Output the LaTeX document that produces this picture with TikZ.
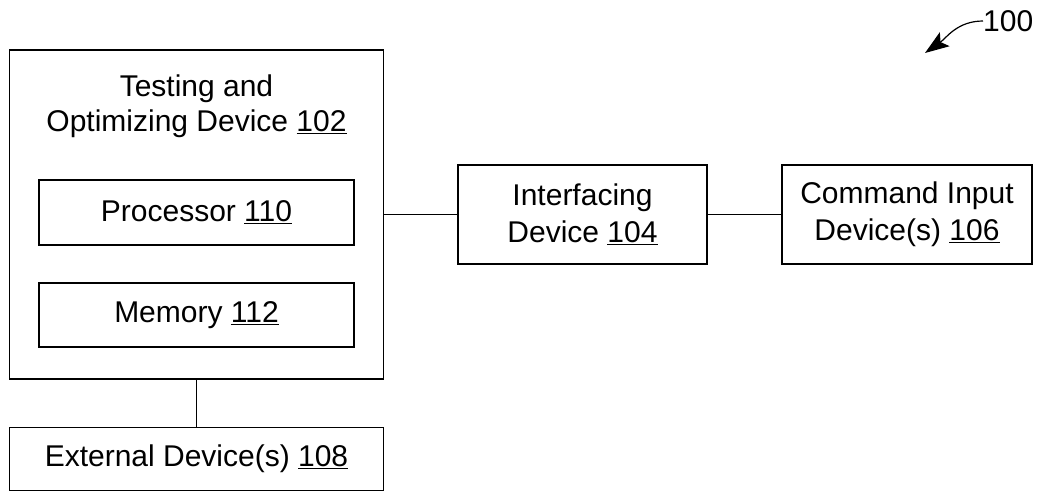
\documentclass[tikz,border=0pt]{standalone}
\usepackage{fontspec}
\setmainfont{Liberation Sans}
\usetikzlibrary{arrows.meta}

\begin{document}
\begin{tikzpicture}[x=1pt,y=-1pt]

\tikzset{block/.style = {shape=rectangle,draw,line width=1.6pt,inner sep=0pt,align=center,font=\fontsize{30}{37}\selectfont}}
\tikzset{caption/.style = {align=center,inner sep=0pt,font=\fontsize{30}{35}\selectfont}}
\tikzset{link/.style = {line width=1.6pt}}
\useasboundingbox (0,0) rectangle (1037,492);

\node[block,minimum width=374pt,minimum height=329pt] (tod) at (196.5,214.5) {};
\node[caption] (todtext) at (196.5,106) {Testing and\\Optimizing Device \underline{102}};
\node[block,minimum width=315pt,minimum height=65pt] (proc) at (196.5,212.5) {Processor \underline{110}};
\node[block,minimum width=315pt,minimum height=64pt] (mem) at (196.5,315) {Memory \underline{112}};
\node[block,minimum width=374pt,minimum height=63pt] (ext) at (196.5,459) {External Device(s) \underline{108}};
\node[block,minimum width=249pt,minimum height=99pt] (ifd) at (582.5,214.5) {Interfacing\\Device \underline{104}};
\node[block,minimum width=250pt,minimum height=99pt] (cmd) at (907,214.5) {Command Input\\Device(s) \underline{106}};

% numeral with its pointer
\node[caption,anchor=west] (fig) at (983,21) {100};
\coordinate (figtip) at (925,53);

\foreach \from/\to in {tod.east/ifd.west, ifd.east/cmd.west, tod.south/ext.north}
\draw [link] (\from) -- (\to);

\draw[line width=1.2pt,-{Stealth[length=24pt,width=17pt,inset=5pt]}] (fig.west) to [out=180,in=35] (figtip);
\end{tikzpicture}
\end{document}
